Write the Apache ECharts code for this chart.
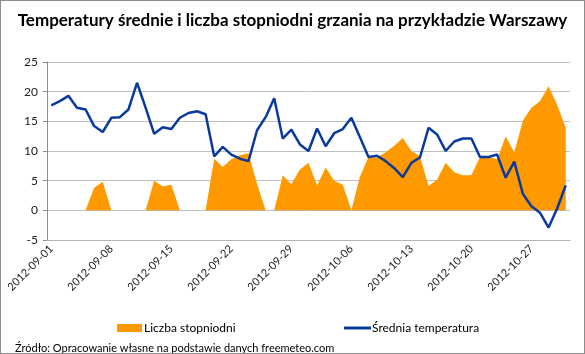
<!DOCTYPE html>
<html>
<head>
<meta charset="utf-8">
<script src="https://cdn.jsdelivr.net/npm/echarts@6/dist/echarts.min.js"></script>
<style>
  html, body { margin: 0; padding: 0; background: #fff; }
  #chart { width: 585px; height: 354px; box-sizing: border-box; border: 1px solid #8c8c8c; }
</style>
</head>
<body>
<div id="chart"></div>
<script>
// dni: 2012-09-01 .. 2012-10-31
var dates = [
  "2012-09-01", "2012-09-02", "2012-09-03", "2012-09-04", "2012-09-05", "2012-09-06", "2012-09-07",
  "2012-09-08", "2012-09-09", "2012-09-10", "2012-09-11", "2012-09-12", "2012-09-13", "2012-09-14",
  "2012-09-15", "2012-09-16", "2012-09-17", "2012-09-18", "2012-09-19", "2012-09-20", "2012-09-21",
  "2012-09-22", "2012-09-23", "2012-09-24", "2012-09-25", "2012-09-26", "2012-09-27", "2012-09-28",
  "2012-09-29", "2012-09-30", "2012-10-01", "2012-10-02", "2012-10-03", "2012-10-04", "2012-10-05",
  "2012-10-06", "2012-10-07", "2012-10-08", "2012-10-09", "2012-10-10", "2012-10-11", "2012-10-12",
  "2012-10-13", "2012-10-14", "2012-10-15", "2012-10-16", "2012-10-17", "2012-10-18", "2012-10-19",
  "2012-10-20", "2012-10-21", "2012-10-22", "2012-10-23", "2012-10-24", "2012-10-25", "2012-10-26",
  "2012-10-27", "2012-10-28", "2012-10-29", "2012-10-30", "2012-10-31"
];

// średnia temperatura dobowa [°C]
var temperature = [
  17.7, 18.4, 19.3, 17.3, 17.0, 14.2, 13.2, 15.6, 15.7, 17.0,
  21.5, 17.3, 12.9, 14.0, 13.7, 15.6, 16.4, 16.7, 16.2, 9.1,
  10.7, 9.4, 8.7, 8.3, 13.5, 15.7, 18.9, 12.1, 13.6, 11.1,
  10.0, 13.8, 10.8, 13.0, 13.7, 15.6, 12.3, 9.0, 9.2, 8.3,
  7.1, 5.6, 8.0, 8.9, 13.9, 12.8, 10.0, 11.6, 12.1, 12.1,
  9.0, 9.0, 9.4, 5.5, 8.2, 2.8, 0.7, -0.4, -2.9, 0.3,
  4.2
];

// liczba stopniodni
var degreeDays = [
  0, 0, 0, 0, 0, 3.8, 4.8, 0, 0, 0,
  0, 0, 5.0, 4.0, 4.3, 0, 0, 0, 0, 8.7,
  7.3, 8.6, 9.3, 9.6, 4.5, 0, 0, 5.9, 4.4, 6.9,
  8.0, 4.2, 7.2, 5.0, 4.3, 0, 5.7, 9.0, 8.9, 9.8,
  10.9, 12.2, 10.0, 9.1, 4.1, 5.2, 8.0, 6.4, 5.9, 5.9,
  9.0, 9.0, 8.6, 12.5, 9.8, 15.1, 17.3, 18.4, 20.9, 17.8,
  13.9
];

var yTicks = { min: -5, max: 25, step: 5 };

var chart = echarts.init(document.getElementById("chart"));

var option = {
  animation: false,
  title: [
    {
      text: "Temperatury średnie i liczba stopniodni grzania na przykładzie Warszawy",
      left: "center",
      top: 6,
      textStyle: { fontFamily: "Lato", fontSize: 17, fontWeight: "bold", color: "#000" }
    },
    {
      text: "Źródło: Opracowanie własne na podstawie danych freemeteo.com",
      left: 9,
      top: 337,
      textStyle: { fontFamily: "Lato", fontSize: 11, fontWeight: "normal", color: "#000" }
    }
  ],
  legend: [
    {
      data: [{ name: "Liczba stopniodni", icon: "rect" }],
      left: 111,
      top: 316,
      itemWidth: 25,
      itemHeight: 8,
      itemGap: 4,
      textStyle: { fontFamily: "Lato", fontSize: 12, color: "#000", padding: [0, 0, 0, -3] }
    },
    {
      data: [{ name: "Średnia temperatura", icon: "rect" }],
      left: 338,
      top: 316,
      itemWidth: 27,
      itemHeight: 3,
      textStyle: { fontFamily: "Lato", fontSize: 12, color: "#000", padding: [0, 0, 0, -4] }
    }
  ],
  grid: { left: 46, right: 14, top: 61, bottom: 113 },
  xAxis: {
    type: "category",
    data: dates,
    boundaryGap: true,
    axisLine: { onZero: false, lineStyle: { color: "#b3b3b3" } },
    axisTick: { show: false },
    axisLabel: {
      interval: 6,
      rotate: 45,
      fontFamily: "Lato",
      fontSize: 11,
      color: "#222",
      margin: 7
    },
    splitLine: { show: false }
  },
  yAxis: {
    type: "value",
    min: yTicks.min,
    max: yTicks.max,
    interval: yTicks.step,
    axisLine: { show: true, lineStyle: { color: "#8c8c8c" } },
    axisTick: { show: true, length: 4, lineStyle: { color: "#8c8c8c" } },
    axisLabel: { fontFamily: "Lato", fontSize: 12, color: "#222", margin: 9 },
    splitLine: { lineStyle: { color: "#bfbfbf", width: 1 } }
  },
  series: [
    {
      name: "Liczba stopniodni",
      type: "line",
      data: degreeDays,
      symbol: "none",
      lineStyle: { width: 0 },
      itemStyle: { color: "#ff9900" },
      areaStyle: { color: "#ff9900", opacity: 1, origin: "auto" }
    },
    {
      name: "Średnia temperatura",
      type: "line",
      data: temperature,
      symbol: "none",
      lineStyle: { width: 2.5, color: "#0a3a9c" },
      itemStyle: { color: "#0a3a9c" }
    }
  ]
};

chart.setOption(option);
</script>
</body>
</html>
